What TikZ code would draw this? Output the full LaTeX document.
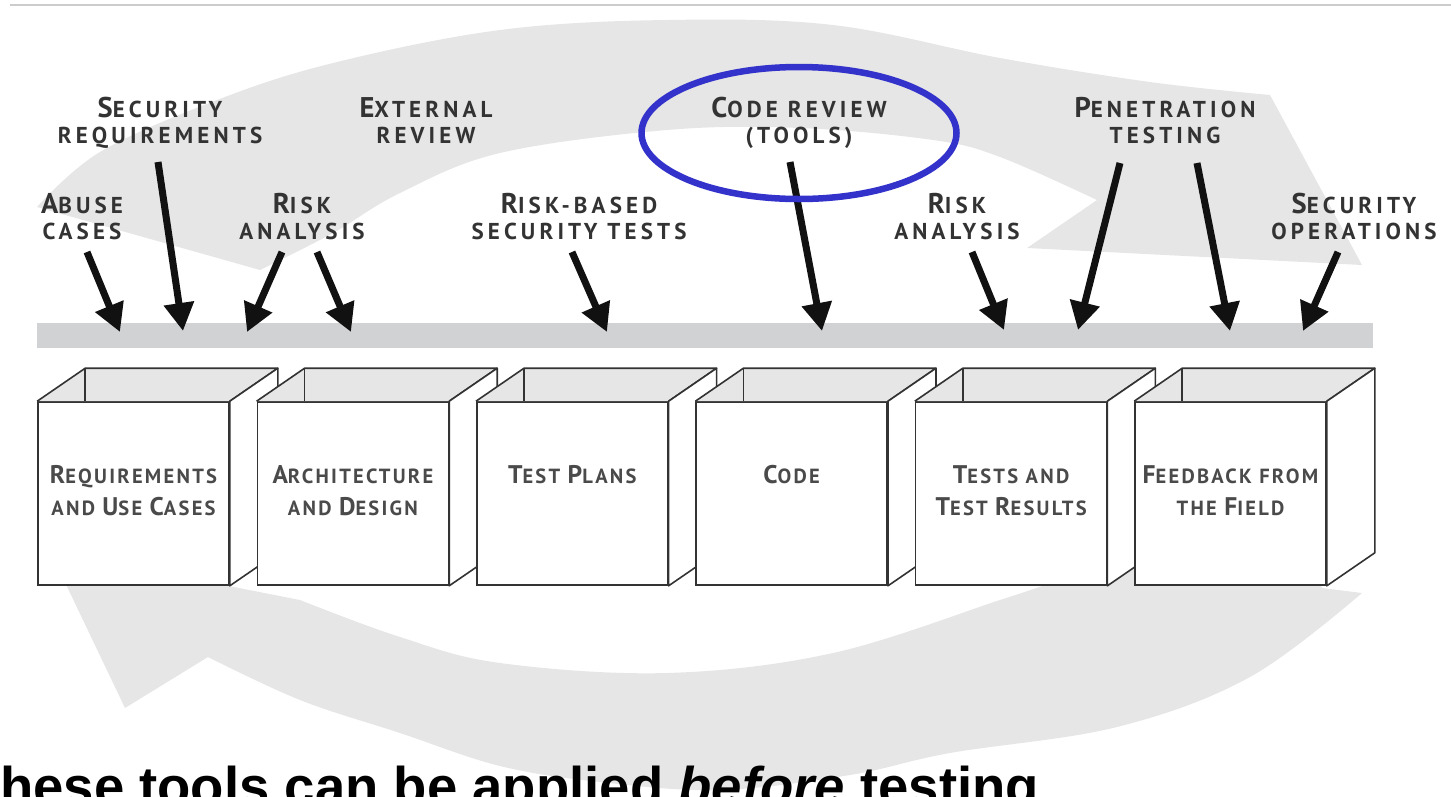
\documentclass[tikz,border=0pt]{standalone}
\usepackage{fontspec}
\setmainfont{Liberation Sans}
\newfontfamily\labfontA[LetterSpace=18,UprightFont=* Bold]{PT Sans}
\newfontfamily\labfontB[LetterSpace=11,UprightFont=* Bold]{PT Sans}
\usetikzlibrary{arrows.meta,shapes.geometric}
\definecolor{band}{HTML}{E6E6E6}
\definecolor{barcol}{HTML}{D1D2D4}
\definecolor{hlblue}{HTML}{3333CC}
\definecolor{ink}{HTML}{333333}
\definecolor{boxink}{HTML}{4A4A4A}
\definecolor{boxline}{HTML}{333333}
\definecolor{arrowink}{HTML}{111111}
\definecolor{sepline}{HTML}{CCCCCC}
\newcommand\capsz{29}
\newcommand\Cp[1]{{\fontsize{\capsz}{26}\selectfont #1}}
\newcommand\toplabfont{\labfontA\fontsize{23}{26}\selectfont\renewcommand\capsz{28.5}}
\newcommand\boxlabfont{\labfontB\fontsize{20.5}{32}\selectfont\renewcommand\capsz{25.5}}
\newcommand\lab[2]{\begin{tabular}[t]{@{}c@{}}#1\\#2\end{tabular}}
\begin{document}
\begin{tikzpicture}[x=1pt,y=-1pt,
  arr/.style={draw=arrowink, line width=7pt, -{Triangle[length=28pt,width=29pt]}},
  toplab/.style={inner sep=0pt, anchor=base, text=ink, font=\toplabfont},
  boxlab/.style={inner sep=0pt, anchor=base, text=boxink, font=\boxlabfont},
  front/.style={draw=boxline, fill=white, line width=1.6pt, minimum width=191pt, minimum height=183pt, inner sep=0pt},
  face/.style={draw=boxline, line width=1.6pt, line join=round},
]
\useasboundingbox (0,0) rectangle (1451,796);
% separator line
\draw[sepline, line width=1.5pt] (10,5) -- (1451,5);
% top returning band
\fill[band] plot[smooth,tension=0.6] coordinates {(37,207) (100,152) (217,100) (333,63) (500,30) (667,20) (833,25) (1000,58) (1150,82) (1270,95)}
  -- (1362,265) -- (1027,248)
  -- plot[smooth,tension=0.6] coordinates {(1097,200) (1000,157) (933,140) (800,128) (667,130) (500,153) (400,193) (333,233) (260,270)}
  -- cycle;
% bottom returning band
\fill[band] (40,530) -- (125,708) -- (208,657)
  -- plot[smooth,tension=0.6] coordinates {(208,657) (300,700) (400,733) (500,766) (600,782) (720,790) (850,775) (950,753) (1117,727) (1250,677) (1362,593)}
  -- (1322,588) -- (1310,560) -- (1060,560)
  -- plot[smooth,tension=0.6] coordinates {(1045,585) (1000,600) (833,653) (667,673) (500,663) (400,637) (300,600)}
  -- (229,586) -- (225,530) -- cycle;
% grey bar
\fill[barcol] (37,323) rectangle (1373,348);
% labels
\node[toplab] (secreq) at (160,117) {\lab{\Cp{S}ECURITY}{REQUIREMENTS}};
\node[toplab] (extrev) at (426,117) {\lab{\Cp{E}XTERNAL}{REVIEW}};
\node[toplab] (coderev) at (799,117) {\lab{\Cp{C}ODE REVIEW}{(TOOLS)}};
\node[toplab] (pentest) at (1165,117) {\lab{\Cp{P}ENETRATION}{TESTING}};
\node[toplab] (abuse) at (82,213) {\lab{\Cp{A}BUSE}{CASES}};
\node[toplab] (riskA) at (302,213) {\lab{\Cp{R}ISK}{ANALYSIS}};
\node[toplab] (riskbased) at (579,213) {\lab{\Cp{R}ISK-BASED}{SECURITY TESTS}};
\node[toplab] (riskB) at (957,213) {\lab{\Cp{R}ISK}{ANALYSIS}};
\node[toplab] (secops) at (1354,213) {\lab{\Cp{S}ECURITY}{OPERATIONS}};
% arrow coordinates
\coordinate (s1) at (87,252);   \coordinate (e1) at (120,332);
\coordinate (s2) at (158,162);  \coordinate (e2) at (183,331);
\coordinate (s3) at (282,252);  \coordinate (e3) at (247,332);
\coordinate (s4) at (317,252);  \coordinate (e4) at (351,332);
\coordinate (s5) at (572,252);  \coordinate (e5) at (607,332);
\coordinate (s6) at (790,162);  \coordinate (e6) at (822,331);
\coordinate (s7) at (972,252);  \coordinate (e7) at (1004,330);
\coordinate (s8) at (1120,163); \coordinate (e8) at (1078,330);
\coordinate (s9) at (1197,163); \coordinate (e9) at (1230,331);
\coordinate (s10) at (1338,252); \coordinate (e10) at (1303,331);
\foreach \k in {1,...,10} {\draw[arr] (s\k) -- (e\k);}
% boxes
\foreach \i/\cx in {1/133.5,2/352.9,3/572.3,4/791.7,5/1011.1,6/1230.5} {
  \node[front] (b\i) at (\cx,493.5) {};
  \fill[band] (b\i.north west) -- ++(48,-33) -- ([shift={(48,-33)}]b\i.north east) -- (b\i.north east) -- cycle;
  \draw[face] (b\i.north west) -- ++(48,-33) -- ([shift={(48,-33)}]b\i.north east) -- (b\i.north east);
  \draw[face] ([shift={(48,-33)}]b\i.north west) -- ([shift={(48,0)}]b\i.north west);
  \filldraw[face, fill=white] (b\i.north east) -- ++(48,-33) -- ([shift={(48,-33)}]b\i.south east) -- (b\i.south east) -- cycle;
}
\node[boxlab] (bl1) at (b1.center |- 0,483) {\lab{\Cp{R}EQUIREMENTS}{AND \Cp{U}SE \Cp{C}ASES}};
\node[boxlab] (bl2) at (b2.center |- 0,483) {\lab{\Cp{A}RCHITECTURE}{AND \Cp{D}ESIGN}};
\node[boxlab] (bl3) at (b3.center |- 0,483) {\Cp{T}EST \Cp{P}LANS};
\node[boxlab] (bl4) at (b4.center |- 0,483) {\Cp{C}ODE};
\node[boxlab] (bl5) at (b5.center |- 0,483) {\lab{\Cp{T}ESTS AND}{\Cp{T}EST \Cp{R}ESULTS}};
\node[boxlab] (bl6) at (b6.center |- 0,483) {\lab{\Cp{F}EEDBACK FROM}{THE \Cp{F}IELD}};
% highlight ellipse
\node[draw=hlblue, line width=6.5pt, ellipse, minimum width=315pt, minimum height=132pt, inner sep=0pt] (hl) at (799,133) {};
% bottom note
\node[anchor=base west, inner sep=0pt, font=\fontsize{54.5}{60}\selectfont\bfseries] (note) at (0,805) {hese tools can be applied \textit{before} testing};
\end{tikzpicture}
\end{document}
